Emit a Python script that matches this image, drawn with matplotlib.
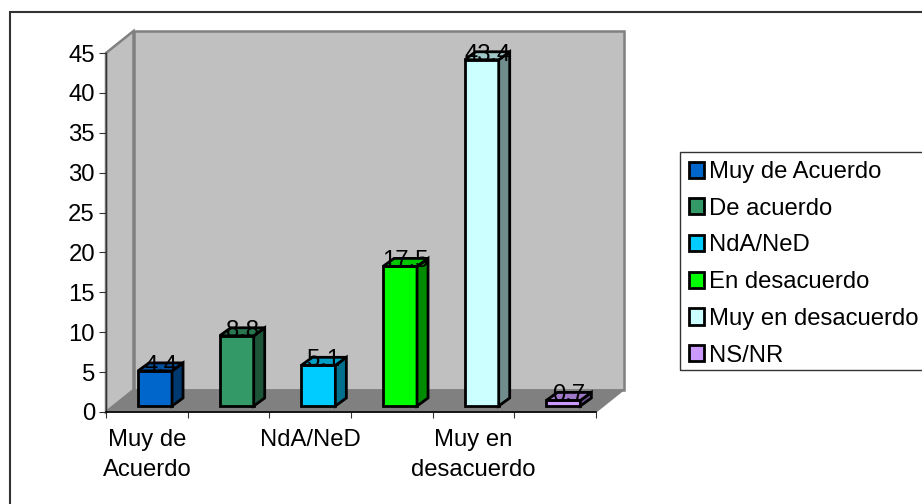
import numpy as np
import matplotlib
matplotlib.use('Agg')
import matplotlib.pyplot as plt
from matplotlib.patches import Patch, Polygon, Rectangle

categories = ['Muy de Acuerdo', 'De acuerdo', 'NdA/NeD', 'En desacuerdo', 'Muy en desacuerdo', 'NS/NR']
values = [4.4, 8.8, 5.1, 17.5, 43.4, 0.7]
colors = ['#0066CC', '#339966', '#00CCFF', '#00FF00', '#CCFFFF', '#CC99FF']
shown_ticks = [0, 2, 4]
shown_labels = ['Muy de\nAcuerdo', 'NdA/NeD', 'Muy en\ndesacuerdo']

plt.rcParams['font.family'] = ['Liberation Sans', 'DejaVu Sans']
FS = 17.2
W, H = 922, 504
fig = plt.figure(figsize=(W / 100, H / 100), dpi=100)

# plot box in pixels of the picture
left, right, top, bottom = 106, 596, 53, 412
ax = fig.add_axes([left / W, 1 - bottom / H, (right - left) / W, (bottom - top) / H])
ax.set_xlim(-0.5, 5.5)
ax.set_ylim(0, 45)
ppx = (right - left) / 6
ppy = (bottom - top) / 45


def darker(c, f):
    return tuple(np.array(matplotlib.colors.to_rgb(c)) * f)


# walls and floor of the 3d box
wx, wy = 27.5 / ppx, 22 / ppy
grey = '#808080'
ax.add_patch(Polygon([(-0.5, 0), (-0.5, 45), (-0.5 + wx, 45 + wy), (-0.5 + wx, wy)],
                     fc='#C0C0C0', ec=grey, lw=1.8, clip_on=False, zorder=1))
ax.add_patch(Rectangle((-0.5 + wx, wy), 6, 45, fc='#C0C0C0', ec=grey, lw=1.8, clip_on=False, zorder=1))
ax.add_patch(Polygon([(-0.5, 0), (5.5, 0), (5.5 + wx, wy), (-0.5 + wx, wy)],
                     fc=grey, ec=grey, lw=1, clip_on=False, zorder=1.5))

# bars
x = np.arange(len(values))
sx, sy = 8.2 / ppx, 6 / ppy
bw = 34 / ppx
dx, dy = 11 / ppx, 8 / ppy
ax.bar(x + sx, values, width=bw, bottom=sy, color=colors, edgecolor='black', linewidth=2,
       clip_on=False, zorder=3)
for xi, v, c in zip(x, values, colors):
    x0 = xi + sx - bw / 2
    x1 = xi + sx + bw / 2
    y0 = sy
    y1 = sy + v
    ax.add_patch(Polygon([(x1, y0), (x1 + dx, y0 + dy), (x1 + dx, y1 + dy), (x1, y1)],
                         fc=darker(c, 0.55), ec='black', lw=2, clip_on=False, zorder=3))
    ax.add_patch(Polygon([(x0, y1), (x0 + dx, y1 + dy), (x1 + dx, y1 + dy), (x1, y1)],
                         fc=darker(c, 0.78), ec='black', lw=2, clip_on=False, zorder=3))
    ax.text(xi + sx + dx / 2, y1 - 1 / ppy, str(v), ha='center', va='baseline', fontsize=FS,
            color='black', zorder=5, clip_on=False)

# axes
ax.patch.set_visible(False)
ax.spines['top'].set_visible(False)
ax.spines['right'].set_visible(False)
ax.spines['left'].set_color('#333333')
ax.spines['bottom'].set_color('black')
ax.spines['left'].set_linewidth(1)
ax.spines['bottom'].set_linewidth(1.2)
ax.spines['left'].set_zorder(2)
ax.spines['bottom'].set_zorder(2)
ax.set_yticks(np.arange(0, 46, 5))
ax.set_xticks(np.arange(-0.5, 6), labels=[])
ax.set_xticks(shown_ticks, labels=shown_labels, minor=True)
ax.tick_params(axis='y', length=5, width=0.8, pad=3, labelsize=FS, color='#333333')
ax.tick_params(axis='x', which='major', length=4.5, width=0.8, color='#333333')
ax.tick_params(axis='x', which='minor', length=0, pad=12.5, labelsize=FS)
for lab in ax.get_xticklabels(minor=True):
    lab.set_linespacing(1.44)

# chart border runs off the right and bottom of the picture
fig.add_artist(Rectangle((10 / W, -0.1), 1.1, 1 - 12 / H + 0.1, fill=False, ec='#333333', lw=1.5,
                         transform=fig.transFigure))

# legend frame drawn apart, the automatic one comes out too tall
fig.add_artist(Rectangle((679.5 / W, 1 - 370 / H), 0.3, 218 / H, fill=False, ec='#333333', lw=1,
                         transform=fig.transFigure))
handles = [Patch(fc=c, ec='black', lw=2) for c in colors]
leg = fig.legend(handles, categories, loc='upper left', bbox_to_anchor=(679.5 / W, 1 - 152 / H),
                 bbox_transform=fig.transFigure, borderaxespad=0, fontsize=FS, frameon=False,
                 handlelength=0.66, handleheight=0.66,
                 handletextpad=0.2, labelspacing=0.615, borderpad=0.38)

fig.savefig('out.png', dpi=100)
